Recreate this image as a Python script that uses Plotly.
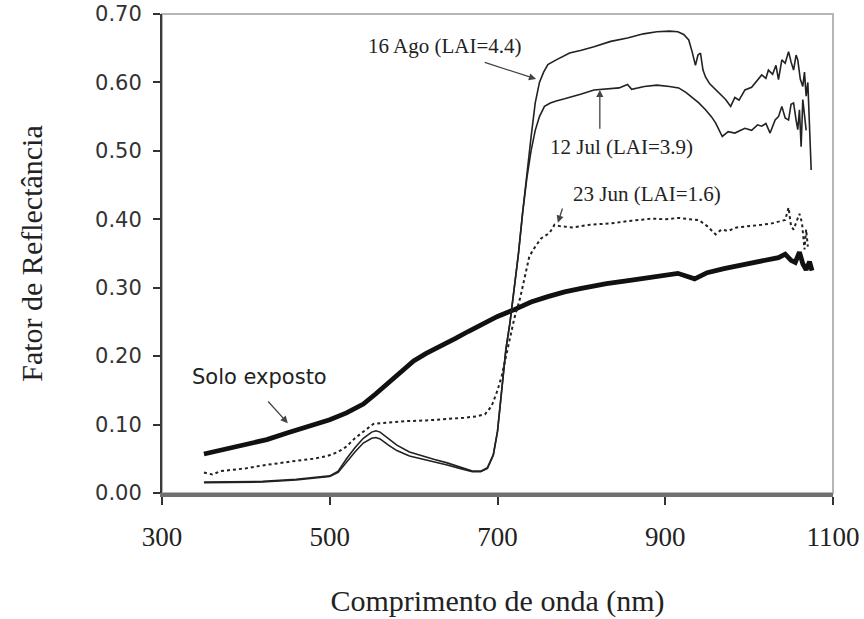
import plotly.graph_objects as go

# ---------------- data ----------------
x_ticks = [300, 500, 700, 900, 1100]
y_ticks = [0.0, 0.1, 0.2, 0.3, 0.4, 0.5, 0.6, 0.7]

wl_solo = [350, 375, 400, 425, 450, 475, 500, 520, 540, 555, 570, 585, 600, 615,
           630, 650, 665, 680, 700, 720, 740, 760, 780, 800, 830, 860, 890, 915, 935,
           950, 970, 990, 1010, 1025, 1035, 1043, 1050, 1055, 1060, 1064, 1068,
           1072, 1075]
solo = [0.057, 0.064, 0.070, 0.078, 0.088, 0.097, 0.107, 0.117, 0.130, 0.145,
        0.161, 0.178, 0.193, 0.204, 0.213, 0.226, 0.236, 0.245, 0.258, 0.268, 0.279,
        0.287, 0.294, 0.299, 0.306, 0.311, 0.316, 0.321, 0.313, 0.322, 0.328,
        0.333, 0.337, 0.341, 0.344, 0.349, 0.340, 0.337, 0.352, 0.335, 0.326,
        0.338, 0.325]

wl_ago = [350, 380, 420, 460, 490, 500, 510, 520, 530, 540, 550, 555, 560, 570,
          580, 595, 610, 625, 640, 655, 670, 680, 688, 695, 700, 705, 710, 715,
          720, 725, 730, 735, 740, 745, 750, 755, 760, 770, 786, 800, 815, 835,
          855, 874, 890, 905, 915, 922, 928, 932, 936, 939, 942, 945, 948, 953,
          960, 967, 972, 978, 983, 988, 995, 1003, 1010, 1015, 1020, 1023, 1028,
          1032, 1035, 1039, 1043, 1047, 1050, 1053, 1056, 1058, 1061, 1064, 1066,
          1068, 1070, 1072, 1074]
ago = [0.015, 0.015, 0.016, 0.019, 0.022, 0.024, 0.030, 0.045, 0.060, 0.073,
       0.080, 0.081, 0.079, 0.070, 0.062, 0.054, 0.050, 0.045, 0.041, 0.036,
       0.031, 0.031, 0.036, 0.055, 0.090, 0.150, 0.210, 0.250, 0.300, 0.350,
       0.410, 0.470, 0.520, 0.570, 0.600, 0.615, 0.626, 0.633, 0.643, 0.647,
       0.652, 0.660, 0.665, 0.671, 0.674, 0.675, 0.674, 0.670, 0.662, 0.645,
       0.625, 0.640, 0.643, 0.618, 0.608, 0.598, 0.589, 0.580, 0.575, 0.565,
       0.578, 0.574, 0.589, 0.593, 0.604, 0.611, 0.606, 0.618, 0.612, 0.625,
       0.604, 0.633, 0.628, 0.645, 0.630, 0.618, 0.640, 0.633, 0.605, 0.594,
       0.615, 0.580, 0.600, 0.520, 0.472]

wl_jul = [350, 380, 420, 460, 490, 500, 510, 520, 530, 540, 550, 555, 560, 570,
          580, 595, 610, 625, 640, 655, 670, 680, 688, 695, 700, 705, 710, 715,
          720, 725, 730, 735, 740, 745, 750, 756, 763, 770, 780, 790, 800, 815,
          830, 845, 855, 860, 875, 890, 905, 916, 925, 931, 940, 948, 955, 960,
          964, 968, 975, 983, 990, 995, 1003, 1010, 1015, 1020, 1025, 1031, 1035,
          1039, 1043, 1047, 1050, 1053, 1056, 1058, 1060, 1062, 1064, 1066, 1068]
jul = [0.016, 0.016, 0.017, 0.020, 0.023, 0.025, 0.032, 0.050, 0.066, 0.080,
       0.089, 0.091, 0.089, 0.080, 0.070, 0.060, 0.054, 0.049, 0.044, 0.038,
       0.032, 0.032, 0.037, 0.056, 0.090, 0.150, 0.210, 0.250, 0.300, 0.350,
       0.410, 0.460, 0.500, 0.530, 0.550, 0.565, 0.570, 0.573, 0.576, 0.579,
       0.583, 0.589, 0.590, 0.592, 0.597, 0.590, 0.594, 0.596, 0.594, 0.592,
       0.585, 0.579, 0.570, 0.560, 0.550, 0.541, 0.530, 0.521, 0.528, 0.526,
       0.530, 0.533, 0.530, 0.538, 0.536, 0.540, 0.526, 0.545, 0.550, 0.565,
       0.548, 0.545, 0.568, 0.570, 0.545, 0.531, 0.560, 0.506, 0.575, 0.550,
       0.530]

wl_jun = [350, 360, 370, 385, 400, 418, 440, 460, 480, 497, 510, 520, 530, 536,
          545, 552, 570, 590, 615, 640, 660, 675, 685, 693, 700, 705, 712, 720,
          727, 733, 738, 745, 752, 762, 768, 774, 790, 810, 835, 860, 885, 900,
          916, 930, 940, 950, 960, 967, 975, 985, 1003, 1015, 1027, 1035, 1043,
          1047, 1050, 1053, 1057, 1060, 1063, 1066, 1068, 1070]
jun = [0.030, 0.027, 0.032, 0.034, 0.036, 0.040, 0.044, 0.047, 0.050, 0.054,
       0.060, 0.068, 0.080, 0.086, 0.094, 0.101, 0.103, 0.105, 0.106, 0.108,
       0.110, 0.112, 0.115, 0.127, 0.150, 0.171, 0.210, 0.255, 0.285, 0.320,
       0.346, 0.360, 0.372, 0.380, 0.392, 0.390, 0.388, 0.392, 0.394, 0.398,
       0.401, 0.400, 0.402, 0.400, 0.399, 0.390, 0.378, 0.385, 0.383, 0.388,
       0.390, 0.392, 0.394, 0.396, 0.399, 0.417, 0.390, 0.385, 0.400, 0.408,
       0.395, 0.356, 0.385, 0.360]

# labels: (text, x, y) and arrows: (head_x, head_y, tail_x, tail_y)
labels = [("16 Ago (LAI=4.4)", 637, 0.653),
          ("12 Jul (LAI=3.9)", 848, 0.506),
          ("23 Jun (LAI=1.6)", 878, 0.437),
          ("Solo exposto", 416, 0.170)]
arrows = [(746, 0.605, 683, 0.630),
          (822, 0.589, 822, 0.530),
          (772, 0.395, 778, 0.418),
          (450, 0.102, 425, 0.136)]

SERIF = "Liberation Serif, Times New Roman, serif"
SANS = "DejaVu Sans, Verdana, sans-serif"

fig = go.Figure()
fig.add_trace(go.Scatter(x=wl_solo, y=solo, mode="lines", name="Solo exposto",
                         line=dict(color="#111111", width=4.8)))
fig.add_trace(go.Scatter(x=wl_jun, y=jun, mode="lines", name="23 Jun",
                         line=dict(color="#222222", width=2, dash="dot")))
fig.add_trace(go.Scatter(x=wl_jul, y=jul, mode="lines", name="12 Jul",
                         line=dict(color="#222222", width=1.6)))
fig.add_trace(go.Scatter(x=wl_ago, y=ago, mode="lines", name="16 Ago",
                         line=dict(color="#222222", width=1.6)))

for t, x, y in labels:
    fam = SANS if t == "Solo exposto" else SERIF
    fig.add_annotation(x=x, y=y, text=t, showarrow=False, xref="x", yref="y",
                       font=dict(family=fam, size=21, color="#222222"))
for hx, hy, tx, ty in arrows:
    fig.add_annotation(x=hx, y=hy, ax=tx, ay=ty, axref="x", ayref="y",
                       xref="x", yref="y", text="", showarrow=True,
                       arrowhead=2, arrowsize=1.1, arrowwidth=1.3,
                       arrowcolor="#444444")

# light frame (top/right)
fig.add_shape(type="rect", xref="paper", yref="paper", x0=0, y0=0, x1=1, y1=1,
              line=dict(color="#b5b5b5", width=2), layer="below")

fig.update_layout(
    width=864, height=619,
    margin=dict(l=162, r=31, t=14, b=126, autoexpand=False),
    paper_bgcolor="white", plot_bgcolor="white",
    showlegend=False,
    xaxis=dict(range=[300, 1100], tickvals=x_ticks, ticktext=[str(v) for v in x_ticks],
               automargin=False, ticklabeloverflow="allow",
               showgrid=False, zeroline=False, showline=True,
               linecolor="#707070", linewidth=4,
               ticks="outside", ticklen=8, tickwidth=2, tickcolor="#333333",
               ticklabelstandoff=9,
               tickfont=dict(family=SERIF, size=27, color="#222222"),
               title=dict(text="Comprimento de onda (nm)", standoff=40,
                          font=dict(family=SERIF, size=30, color="#222222"))),
    yaxis=dict(range=[0, 0.70], tickvals=y_ticks, tickformat=".2f",
               automargin=False, ticklabeloverflow="allow",
               showgrid=False, zeroline=False, showline=True,
               linecolor="#3a3a3a", linewidth=2,
               ticks="outside", ticklen=7, tickwidth=2, tickcolor="#333333",
               ticklabelstandoff=7,
               tickfont=dict(family=SANS, size=21, color="#333333"),
               title=dict(text="Fator de Reflectância", standoff=44,
                          font=dict(family=SERIF, size=30, color="#222222"))),
    xaxis2=dict(range=[300, 1100], overlaying="x", anchor="y", side="bottom",
                automargin=False,
                tickvals=x_ticks, showticklabels=False, showgrid=False,
                zeroline=False, showline=False, ticks="inside", ticklen=8,
                tickwidth=2, tickcolor="#333333"),
    yaxis2=dict(range=[0, 0.70], overlaying="y", anchor="x", side="left",
                automargin=False,
                tickvals=y_ticks, showticklabels=False, showgrid=False,
                zeroline=False, showline=False, ticks="inside", ticklen=7,
                tickwidth=2, tickcolor="#333333"),
)

# remove the page's default 8px body margin so the figure sits at the origin
fig.write_html("out.html",
               config={"displayModeBar": False},
               post_script="document.body.style.margin='0';document.body.style.overflow='hidden';")
